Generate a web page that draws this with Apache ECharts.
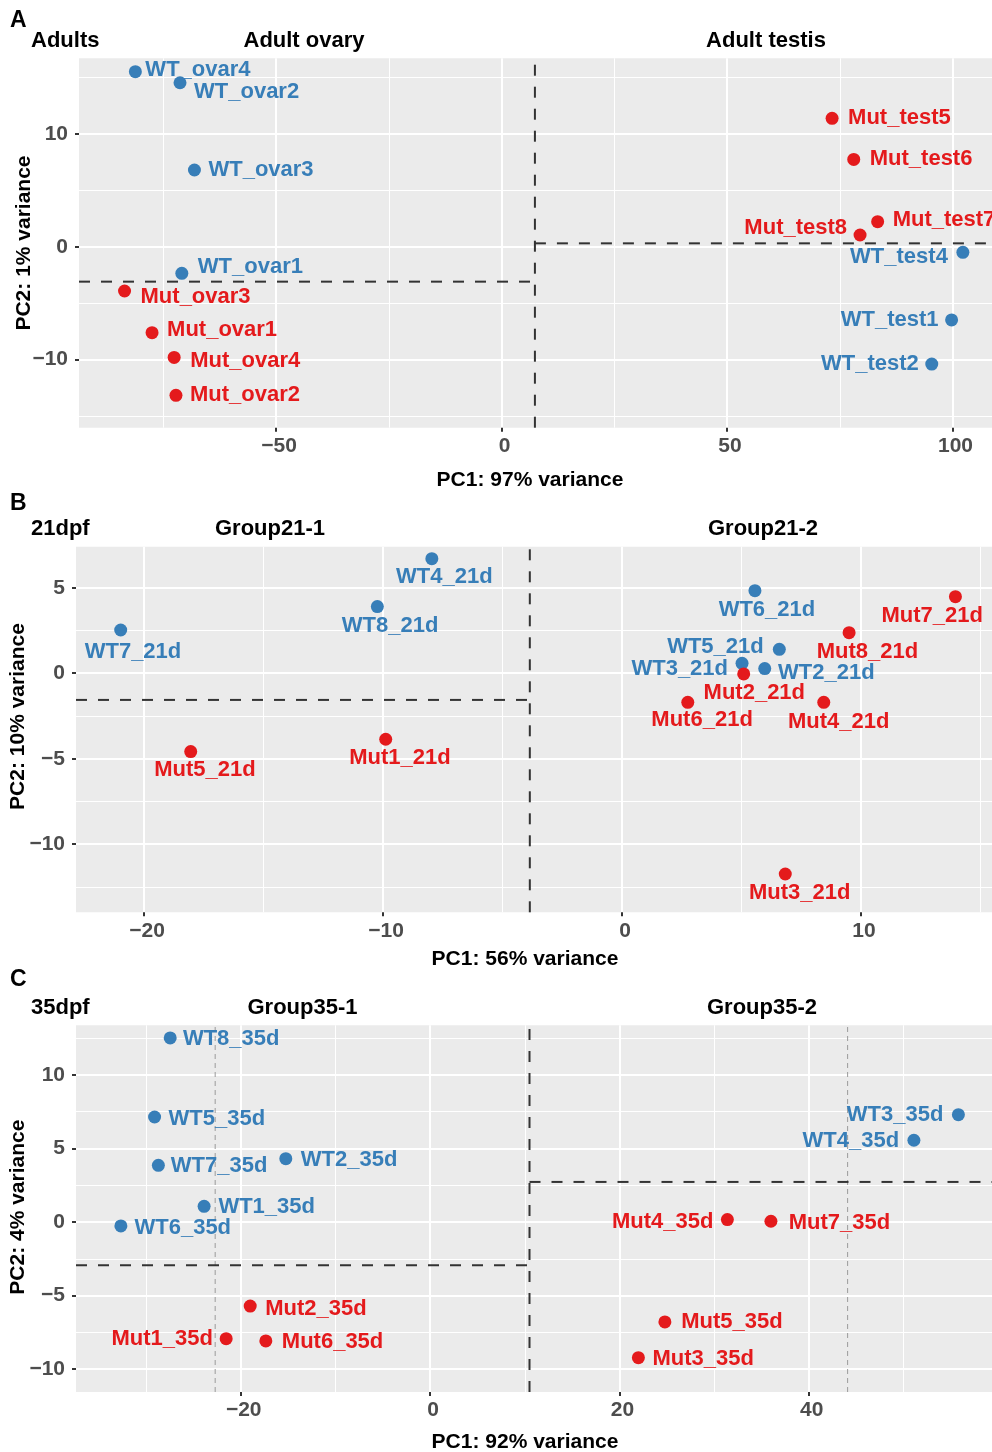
<!DOCTYPE html>
<html><head><meta charset="utf-8">
<script src="https://cdn.jsdelivr.net/npm/echarts@6/dist/echarts.min.js"></script>
<style>html,body{margin:0;padding:0;background:#fff}#c{width:992px;height:1452px}</style>
</head><body><div id="c"></div>
<script>
// ---------- Panel A : Adults ----------
const aNames = ['WT_ovar4','WT_ovar2','WT_ovar3','WT_ovar1','Mut_ovar3','Mut_ovar1','Mut_ovar4','Mut_ovar2','Mut_test5','Mut_test6','Mut_test7','Mut_test8','WT_test4','WT_test1','WT_test2'];
const aPC1 = [-81.2,-71.3,-68.1,-70.9,-83.6,-77.5,-72.6,-72.2,73.3,78.1,83.4,79.5,102.3,99.8,95.4];
const aPC2 = [15.53,14.55,6.81,-2.36,-3.93,-7.63,-9.82,-13.19,11.39,7.75,2.22,1.04,-0.50,-6.50,-10.41];
const aXTicks = [-50,0,50,100];
const aYTicks = [-10,0,10];
const aXRange = [-93.7,108.76];
const aYRange = [-16.06,16.72];
const aCut = [7.4,-3.1,0.3];          // vertical split x, left horizontal y, right horizontal y
const aTitles = ['Adults','Adult ovary','Adult testis'];

// ---------- Panel B : 21dpf ----------
const bNames = ['WT4_21d','WT8_21d','WT7_21d','Mut5_21d','Mut1_21d','WT6_21d','Mut7_21d','Mut8_21d','WT5_21d','WT3_21d','WT2_21d','Mut2_21d','Mut6_21d','Mut4_21d','Mut3_21d'];
const bPC1 = [-7.96,-10.24,-20.98,-18.05,-9.89,5.56,13.95,9.50,6.58,5.02,5.97,5.09,2.75,8.44,6.83];
const bPC2 = [6.70,3.90,2.53,-4.58,-3.86,4.83,4.48,2.37,1.40,0.58,0.27,-0.04,-1.70,-1.70,-11.74];
const bXTicks = [-20,-10,0,10];
const bYTicks = [-10,-5,0,5];
const bXRange = [-22.85,15.48];
const bYRange = [-13.98,7.40];
const bCut = [-3.86,-1.56,null];
const bTitles = ['21dpf','Group21-1','Group21-2'];

// ---------- Panel C : 35dpf ----------
const cNames = ['WT8_35d','WT5_35d','WT7_35d','WT2_35d','WT1_35d','WT6_35d','Mut2_35d','Mut1_35d','Mut6_35d','WT3_35d','WT4_35d','Mut4_35d','Mut7_35d','Mut5_35d','Mut3_35d'];
const cPC1 = [-27.45,-29.1,-28.7,-15.24,-23.87,-32.66,-19.0,-21.54,-17.35,55.8,51.1,31.4,36.0,24.8,22.0];
const cPC2 = [12.5,7.13,3.85,4.30,1.06,-0.27,-5.71,-7.93,-8.08,7.29,5.55,0.16,0.05,-6.79,-9.22];
const cXTicks = [-20,0,20,40];
const cYTicks = [-10,-5,0,5,10];
const cXRange = [-37.4,59.35];
const cYRange = [-11.55,13.36];
const cCut = [10.5,-2.94,2.72];
const cGuides = [-22.7,44.1];          // thin grey dashed verticals
const cTitles = ['35dpf','Group35-1','Group35-2'];

const axisTitlesX = ['PC1: 97% variance','PC1: 56% variance','PC1: 92% variance'];
const axisTitlesY = ['PC2: 1% variance','PC2: 10% variance','PC2: 4% variance'];

// ---------- label placement (side, dx, dy in px) ----------
const aLab = [['r',10,-2],['r',14,9],['r',14,0],['r',16,-6],['r',16,6],['r',15,-3],['r',16,4],['r',14,0],['r',16,0],['r',16,0],['r',15,-2],['l',-13,-7],['l',-15,5],['l',-13,0],['l',-13,0]];
const bLab = [['b',12.5,18.7],['b',12.7,19],['b',12.3,21.7],['b',14.3,18.3],['b',14.3,19],['b',12,19.3],['b',-23.3,19],['b',18.3,19],['l',-15.6,-2],['l',-14,6],['r',13.3,4.6],['b',10.6,18.7],['b',14.3,17.7],['b',15,19.4],['b',14.4,19.3]];
const cLab = [['r',12.7,1],['r',14,2],['r',12.4,1],['r',15,1.6],['r',14.3,1],['r',13.6,2],['r',15,2.7],['l',-13.3,0.6],['r',16,1],['l',-15,0.6],['l',-14.7,0.7],['l',-14,2.3],['r',17.7,1.4],['r',16.3,0],['r',14,1]];

const BLUE = '#377EB8', RED = '#E41A1C';
const FONT = '"Liberation Sans", Arial, Helvetica, sans-serif';

const grids = [
  {left:79, top:58.3, width:913, height:369.4},
  {left:76, top:546.7, width:916, height:365.6},
  {left:76, top:1025.3, width:916, height:366.7}
];
const panels = [
  {names:aNames,x:aPC1,y:aPC2,xt:aXTicks,yt:aYTicks,xr:aXRange,yr:aYRange,cut:aCut,lab:aLab,titles:aTitles,letter:'A',xPad:11,yPad:0,xGap:42,yGap:44},
  {names:bNames,x:bPC1,y:bPC2,xt:bXTicks,yt:bYTicks,xr:bXRange,yr:bYRange,cut:bCut,lab:bLab,titles:bTitles,letter:'B',xPad:18,yPad:26,xGap:36,yGap:47},
  {names:cNames,x:cPC1,y:cPC2,xt:cXTicks,yt:cYTicks,xr:cXRange,yr:cYRange,cut:cCut,lab:cLab,titles:cTitles,letter:'C',xPad:18,yPad:3,xGap:40,yGap:47}
];

const fmt = v => String(v).replace('-', '\u2212');

function axisCommon(ticks, range) {
  const step = ticks[1] - ticks[0];
  return {
    type:'value', min:range[0], max:range[1], minInterval:step, maxInterval:step,
    axisLine:{show:false, onZero:false},
    axisTick:{show:true, customValues:ticks, length:4, lineStyle:{color:'#333', width:2}},
    axisLabel:{customValues:ticks, formatter:fmt, fontSize:21, fontWeight:'bold', color:'#4D4D4D', fontFamily:FONT},
    splitLine:{show:true, lineStyle:{color:'#FFFFFF', width:2}},
    minorTick:{show:false, splitNumber:2},
    minorSplitLine:{show:true, lineStyle:{color:'#FFFFFF', width:1}},
    nameLocation:'middle',
    nameMoveOverlap:false,
    nameTextStyle:{fontSize:21, fontWeight:'bold', color:'#000', fontFamily:FONT}
  };
}

const xAxes = [], yAxes = [], series = [], graphic = [];
const titleY = [[20.5,41],[503.5,529],[980,1007.5]];
const titleX = [[304,766],[270,763],[302.5,762]];

panels.forEach((p, i) => {
  const xa = axisCommon(p.xt, p.xr);
  xa.gridIndex = i; xa.name = axisTitlesX[i]; xa.nameGap = p.xGap;
  xa.axisLabel.margin = 8;
  xa.axisLabel.padding = [0, 0, 0, 6];
  xa.nameTextStyle.padding = [0, p.xPad, 0, 0];
  xAxes.push(xa);
  const ya = axisCommon(p.yt, p.yr);
  ya.gridIndex = i; ya.name = axisTitlesY[i]; ya.nameGap = p.yGap;
  ya.axisLabel.margin = 11;
  ya.nameTextStyle.padding = [0, 0, 0, p.yPad];
  yAxes.push(ya);

  const data = p.names.map((n, k) => {
    const col = n.startsWith('WT') ? BLUE : RED;
    const L = p.lab[k];
    return {
      name:n, value:[p.x[k], p.y[k]],
      itemStyle:{color:col, opacity:1},
      label:{show:true, formatter:n, position:'inside', color:col,
             align: L[0]==='r' ? 'left' : (L[0]==='l' ? 'right' : 'center'),
             verticalAlign:'middle', offset:[L[1], L[2]],
             fontSize:22, fontWeight:'bold', fontFamily:FONT, textBorderWidth:0, opacity:1}
    };
  });
  series.push({type:'scatter', xAxisIndex:i, yAxisIndex:i, symbolSize:13, data, z:5, silent:true, itemStyle:{opacity:1}});

  const dash = {color:'#333333', width:2, type:[11,11]};
  const lines = [];
  lines.push([[p.cut[0], p.yr[0]],[p.cut[0], p.yr[1]]]);
  if (p.cut[1] !== null) lines.push([[p.xr[0], p.cut[1]],[p.cut[0], p.cut[1]]]);
  if (p.cut[2] !== null) lines.push([[p.cut[0], p.cut[2]],[p.xr[1], p.cut[2]]]);
  lines.forEach(d => series.push({type:'line', xAxisIndex:i, yAxisIndex:i, data:d, showSymbol:false, symbol:'none', lineStyle:dash, z:3, silent:true, animation:false}));

  graphic.push({type:'text', x:10, y:titleY[i][0], style:{text:p.letter, fontSize:23, fontWeight:'bold', fontFamily:FONT, fill:'#000', verticalAlign:'middle'}});
  graphic.push({type:'text', x:31, y:titleY[i][1], style:{text:p.titles[0], fontSize:22, fontWeight:'bold', fontFamily:FONT, fill:'#000', verticalAlign:'middle'}});
  graphic.push({type:'text', x:titleX[i][0], y:titleY[i][1], style:{text:p.titles[1], fontSize:22, fontWeight:'bold', fontFamily:FONT, fill:'#000', align:'center', verticalAlign:'middle'}});
  graphic.push({type:'text', x:titleX[i][1], y:titleY[i][1], style:{text:p.titles[2], fontSize:22, fontWeight:'bold', fontFamily:FONT, fill:'#000', align:'center', verticalAlign:'middle'}});
});

cGuides.forEach(g => series.push({type:'line', xAxisIndex:2, yAxisIndex:2, data:[[g, cYRange[0]],[g, cYRange[1]]], showSymbol:false, symbol:'none', lineStyle:{color:'#9A9A9A', width:1, type:[5,4]}, z:2, silent:true, animation:false}));

const chart = echarts.init(document.getElementById('c'), null, {renderer:'canvas'});
chart.setOption({
  animation:false,
  backgroundColor:'#FFFFFF',
  grid: grids.map(g => Object.assign({show:true, backgroundColor:'#EBEBEB', borderWidth:0, containLabel:false, outerBoundsMode:'none'}, g)),
  xAxis:xAxes, yAxis:yAxes, series, graphic
});
</script></body></html>
